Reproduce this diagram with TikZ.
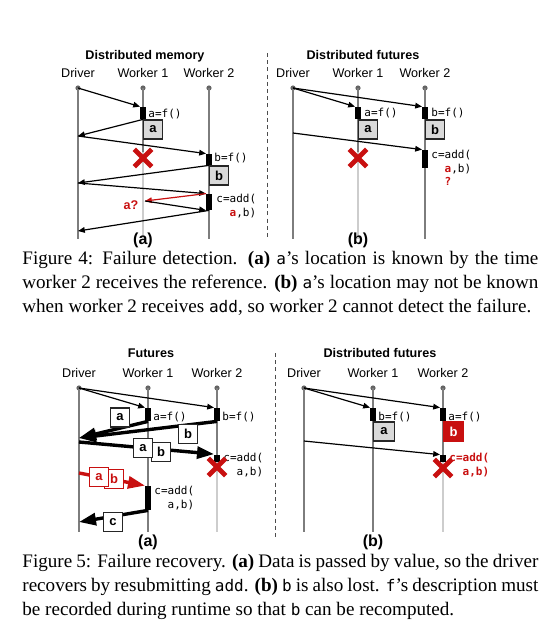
\documentclass[tikz,border=0pt]{standalone}
\usepackage{fontspec}
\setmainfont{Liberation Serif}
\setsansfont{Liberation Sans}
\setmonofont{DejaVu Sans Mono}[Scale=MatchLowercase]
\newfontfamily\codefont{DejaVu Sans Mono}
\usetikzlibrary{arrows.meta,positioning,shapes.misc}
\definecolor{failred}{RGB}{200,16,16}
\definecolor{linegray}{RGB}{125,125,125}
\definecolor{deadgray}{RGB}{205,205,205}
\definecolor{boxgray}{RGB}{217,217,217}

\begin{document}
\begin{tikzpicture}[x=0.5pt,y=-0.5pt,
    lab/.style={font=\fontsize{6.3}{7}\selectfont\sffamily,inner sep=0,anchor=base},
    ttl/.style={lab,font=\fontsize{6.3}{7}\selectfont\sffamily\bfseries},
    sublab/.style={lab,font=\fontsize{8}{9}\selectfont\sffamily\bfseries},
    lifedot/.style={circle,fill=linegray!80!black,inner sep=0,minimum size=2.6pt},
    lifeline/.style={draw=linegray,line width=0.75pt},
    deadline/.style={draw=deadgray,line width=0.75pt},
    actbar/.style={fill=black,inner sep=0,minimum width=2.6pt},
    msg/.style={-{Triangle[length=3.4pt,width=2.8pt]},line width=0.6pt},
    bigmsg/.style={-{Triangle[length=8.5pt,width=6pt]},line width=1.7pt},
    val/.style={draw=black!85,line width=0.6pt,fill=boxgray,inner sep=0,minimum size=9.5pt,font=\fontsize{6.5}{7}\selectfont\sffamily\bfseries},
    codetxt/.style={font=\fontsize{5.5}{7}\selectfont\codefont,inner sep=0},
    failx/.style={cross out,draw=failred,line width=2.4pt,inner sep=0,minimum size=6.3pt},
    divider/.style={draw=black!70,dash pattern=on 2pt off 1.6pt,line width=0.5pt},
    captext/.style={font=\fontsize{9.55}{12}\selectfont,inner sep=0,anchor=base west}]
\useasboundingbox (0,0) rectangle (557,633);

% ---------- Figure 4 (a): distributed memory
\node[ttl] (t4a) at (145,59) {Distributed memory};
\foreach \n/\x/\t in {d/78/Driver,p/143/Worker 1,q/209/Worker 2}{
    \node[lab] (l4a\n) at (\x,77) {\t};
    \node[lifedot] (o4a\n) at (\x,88) {};
}
\draw[lifeline] (o4ad.center) -- (78,239);
\draw[lifeline] (o4ap.center) -- (143,152);
\draw[deadline] (143,152) -- (143,239);
\draw[lifeline] (o4aq.center) -- (209,239);
\node[actbar,minimum height=6pt] (b4a1) at (143,113) {};
\node[actbar,minimum height=5.5pt] (b4a2) at (209,159.5) {};
\node[actbar,minimum height=8pt] (b4a3) at (209,202) {};
\coordinate (d4a1) at (78,136);
\coordinate (d4a2) at (78,183);
\coordinate (d4a3) at (78,231);
\coordinate (w4a) at (145,201);
\draw[msg] (o4ad.center) -- (b4a1.north west);
\draw[msg] (b4a1.south) -- (d4a1);
\draw[msg] (d4a1) -- (b4a2.north west);
\draw[msg] (b4a2.south) -- (d4a2);
\draw[msg] (d4a2) -- (b4a3.north west);
\draw[msg,failred] (b4a3.north west) -- (w4a);
\draw[msg] (w4a) -- (b4a3.south west);
\draw[msg] (b4a3.south) -- (d4a3);
\node[val,anchor=north west] (v4aa) at (b4a1.south) {a};
\node[val,anchor=north west] (v4ab) at (b4a2.south) {b};
\node[codetxt,anchor=west] (f4a1) at (148,114) {a=f()};
\node[codetxt,anchor=west] (f4a2) at (214,158) {b=f()};
\node[codetxt,anchor=north west,align=right] (f4a3) at (216,194) {c=add(\\{\color{failred}\bfseries a},b)};
\node[lab,font=\fontsize{6.3}{7}\selectfont\sffamily\bfseries,text=failred] (q4a) at (131,209) {a?};
\node[sublab] (s4a) at (143,244) {(a)};
\node[failx] (x4a) at (143,158) {};

\draw[divider] (267,53) -- (267,237);

% ---------- Figure 4 (b): distributed futures
\node[ttl] (t4b) at (363,59) {Distributed futures};
\foreach \n/\x/\t in {d/293/Driver,p/358/Worker 1,q/425/Worker 2}{
    \node[lab] (l4b\n) at (\x,77) {\t};
    \node[lifedot] (o4b\n) at (\x,88) {};
}
\draw[lifeline] (o4bd.center) -- (293,239);
\draw[lifeline] (o4bp.center) -- (358,152);
\draw[deadline] (358,152) -- (358,239);
\draw[lifeline] (o4bq.center) -- (425,239);
\node[actbar,minimum height=6pt] (b4b1) at (358,113) {};
\node[actbar,minimum height=6pt] (b4b2) at (425,113) {};
\node[actbar,minimum height=9pt] (b4b3) at (425,159) {};
\coordinate (d4b1) at (293,133);
\draw[msg] (o4bd.center) -- (b4b1.north west);
\draw[msg] (o4bd.center) -- (b4b2.north west);
\draw[msg] (d4b1) -- (b4b3.north west);
\node[val,anchor=north west] (v4ba) at (b4b1.south) {a};
\node[val,anchor=north west] (v4bb) at (b4b2.south) {b};
\node[codetxt,anchor=west] (f4b1) at (364,113) {a=f()};
\node[codetxt,anchor=west] (f4b2) at (431,113) {b=f()};
\node[codetxt,anchor=north west,align=right] (f4b3) at (431,150) {c=add(\\{\color{failred}\bfseries a},b)};
\node[codetxt,font=\fontsize{5.5}{7}\selectfont\codefont\bfseries,text=failred] (q4b) at (448,181) {?};
\node[sublab] (s4b) at (358,244) {(b)};
\node[failx] (x4b) at (358,158) {};

% captions of figure 4
\node[captext] (c4a) at (22,264) {\makebox[258pt][s]{Figure 4: Failure detection. \textbf{(a)} \texttt{a}'s location is known by the time}};
\node[captext] (c4b) at (22,288) {\makebox[258pt][s]{worker 2 receives the reference. \textbf{(b)} \texttt{a}'s location may not be known}};
\node[captext] (c4c) at (22,312) {when worker 2 receives \texttt{add}, so worker 2 cannot detect the failure.};

% ---------- Figure 5 (a): futures
\node[ttl] (t5a) at (151,357) {Futures};
\foreach \n/\x/\t in {d/79/Driver,p/148/Worker 1,q/217/Worker 2}{
    \node[lab] (l5a\n) at (\x,377) {\t};
    \node[lifedot] (o5a\n) at (\x,388) {};
}
\draw[lifeline] (o5ad.center) -- (79,532);
\draw[lifeline] (o5ap.center) -- (148,532);
\draw[lifeline] (o5aq.center) -- (217,462);
\draw[deadline] (217,462) -- (217,532);
\node[actbar,minimum height=6.5pt] (b5a1) at (148,414.5) {};
\node[actbar,minimum height=6.5pt] (b5a2) at (217,414.5) {};
\node[actbar,minimum height=3.5pt] (b5a3) at (217,458) {};
\node[actbar,minimum height=12pt] (b5a4) at (148,498) {};
\coordinate (d5a1) at (79,438);
\coordinate (d5a2) at (79,442);
\coordinate (d5a3) at (79,473);
\coordinate (d5a4) at (79,522);
\draw[msg] (o5ad.center) -- (b5a1.north west);
\draw[msg] (o5ad.center) -- (b5a2.north west);
\draw[bigmsg] (b5a1.south) -- (d5a1);
\draw[bigmsg] (b5a2.south) -- (d5a1);
\draw[bigmsg] (d5a2) -- (b5a3.north west);
\draw[bigmsg,failred] (d5a3) -- (b5a4.north west);
\draw[bigmsg] (b5a4.south) -- (d5a4);
\node[val,fill=white] (v5aa) at (120,417.5) {a};
\node[val,fill=white] (v5ab) at (188,434) {b};
\node[val,fill=white] (v5ab2) at (161,452) {b};
\node[val,fill=white] (v5aa2) at (143,448) {a};
\node[val,fill=white,draw=failred,text=failred] (v5ab3) at (114,479) {b};
\node[val,fill=white,draw=failred,text=failred] (v5aa3) at (99,477) {a};
\node[val,fill=white] (v5ac) at (113,522) {c};
\node[codetxt,anchor=west] (f5a1) at (153,417) {a=f()};
\node[codetxt,anchor=west] (f5a2) at (222,417) {b=f()};
\node[codetxt,anchor=north west,align=right] (f5a3) at (223,453) {c=add(\\a,b)};
\node[codetxt,anchor=north west,align=right] (f5a4) at (154,486) {c=add(\\a,b)};
\node[sublab] (s5a) at (148,546) {(a)};
\node[failx] (x5a) at (217,467) {};

\draw[divider] (275,353) -- (275,540);

% ---------- Figure 5 (b): distributed futures
\node[ttl] (t5b) at (380,357) {Distributed futures};
\foreach \n/\x/\t in {d/304/Driver,p/373/Worker 1,q/443/Worker 2}{
    \node[lab] (l5b\n) at (\x,377) {\t};
    \node[lifedot] (o5b\n) at (\x,388) {};
}
\draw[lifeline] (o5bd.center) -- (304,532);
\draw[lifeline] (o5bp.center) -- (373,532);
\draw[lifeline] (o5bq.center) -- (443,462);
\draw[deadline] (443,462) -- (443,532);
\node[actbar,minimum height=6.5pt] (b5b1) at (373,414.5) {};
\node[actbar,minimum height=6.5pt] (b5b2) at (443,414.5) {};
\node[actbar,minimum height=3.5pt] (b5b3) at (443,458.5) {};
\coordinate (d5b1) at (304,441);
\draw[msg] (o5bd.center) -- (b5b1.north west);
\draw[msg] (o5bd.center) -- (b5b2.north west);
\draw[msg] (d5b1) -- (b5b3.north west);
\node[val,anchor=north west,minimum width=10.5pt] (v5ba) at (b5b1.south) {a};
\node[val,anchor=north west,minimum width=10pt,fill=failred,draw=failred,text=white] (v5bb) at (b5b2.south) {b};
\node[codetxt,anchor=west] (f5b1) at (378,417) {b=f()};
\node[codetxt,anchor=west] (f5b2) at (448,417) {a=f()};
\node[codetxt,anchor=north west,align=right,text=failred,font=\fontsize{5.5}{7}\selectfont\codefont\bfseries] (f5b3) at (449,453) {c=add(\\a,b)};
\node[sublab] (s5b) at (373,546) {(b)};
\node[failx] (x5b) at (443,468) {};

% captions of figure 5
\node[captext] (c5a) at (22,567) {\makebox[258pt][s]{Figure 5: Failure recovery. \textbf{(a)} Data is passed by value, so the driver}};
\node[captext] (c5b) at (22,591) {\makebox[258pt][s]{recovers by resubmitting \texttt{add}. \textbf{(b)} \texttt{b} is also lost. \texttt{f}'s description must}};
\node[captext] (c5c) at (22,615) {be recorded during runtime so that \texttt{b} can be recomputed.};
\end{tikzpicture}
\end{document}
